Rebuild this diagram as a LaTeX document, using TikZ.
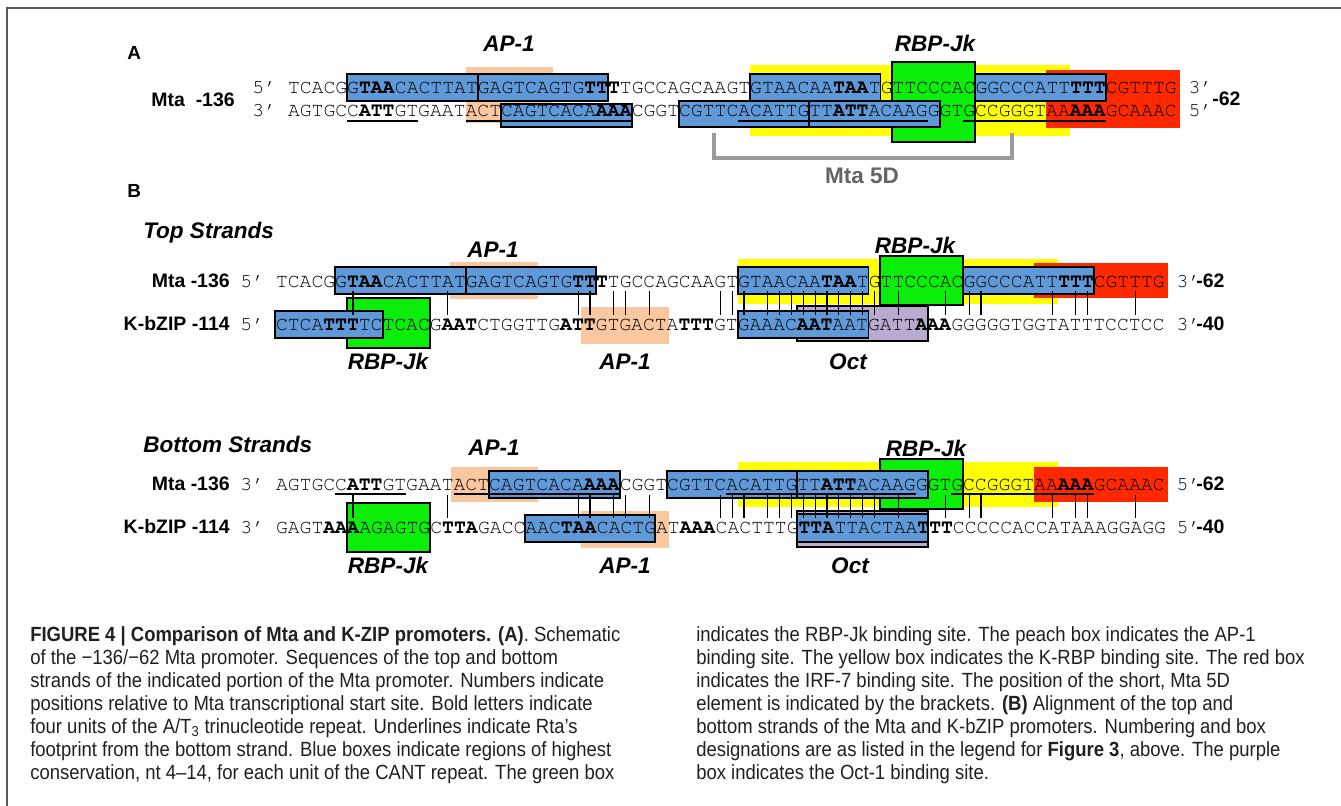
\documentclass[tikz,border=0pt]{standalone}
\usepackage{fontspec}
\setmainfont{Liberation Sans}
\newfontfamily\seqfont{texgyrecursor-regular.otf}[BoldFont=texgyrecursor-bold.otf]
\newfontfamily\capfont[FakeStretch=0.9]{Liberation Sans}
\definecolor{cantblue}{RGB}{96,153,216}
\definecolor{rbpgreen}{RGB}{10,238,10}
\definecolor{krbpyellow}{RGB}{255,255,0}
\definecolor{irfred}{RGB}{255,40,0}
\definecolor{appeach}{RGB}{250,200,160}
\definecolor{octpurple}{RGB}{185,170,208}
\definecolor{brgray}{RGB}{155,155,155}
\definecolor{lblgray}{RGB}{100,100,100}
\definecolor{captext}{RGB}{35,31,32}
\definecolor{framegray}{RGB}{90,90,90}
% character grid of the sequence font (px)
\def\cw{11.85}
\def\xA{288}
\def\xB{276}
% box over characters #3..#4 of a strand starting at #2, from y=#5 to y=#6
\newcommand\seqcell[6]{\path[#1] ({#2+(#3-1)*\cw},#5) rectangle ({#2+(#4)*\cw},#6);}
% underline of characters #2..#3 at height #4
\newcommand\sequnder[4]{\draw[underl] ({#1+(#2-1)*\cw},#4) -- ({#1+(#3)*\cw},#4);}
\begin{document}
\begin{tikzpicture}[x=0.75pt,y=-0.75pt,
  seq/.style={font=\seqfont\fontsize{14.8}{16}\selectfont,anchor=base west,inner sep=0pt,outer sep=0pt},
  lab/.style={font=\bfseries\fontsize{14.6}{16}\selectfont,inner sep=0pt},
  panel/.style={font=\bfseries\fontsize{14.2}{16}\selectfont,anchor=base west,inner sep=0pt},
  site/.style={font=\bfseries\itshape\fontsize{16.9}{18}\selectfont,anchor=base,inner sep=0pt},
  captxt/.style={font=\capfont\fontsize{15.4}{17}\selectfont,anchor=base west,inner sep=0pt,text=captext},
  cant/.style={fill=cantblue,draw=black,line width=1.4pt},
  rbp/.style={fill=rbpgreen,draw=black,line width=1.4pt},
  oct/.style={fill=octpurple,draw=black,line width=1.4pt},
  krbp/.style={fill=krbpyellow},
  irf/.style={fill=irfred},
  ap/.style={fill=appeach},
  underl/.style={line width=1.4pt},
  link/.style={line width=0.9pt},
  bracket/.style={draw=brgray,line width=2.6pt},
]
\useasboundingbox (0,0) rectangle (1341,806);
\fill[white] (0,0) rectangle (1341,806);
\draw[framegray,line width=1.1pt] (7,806) -- (7,8) -- (1341,8);

%% ---------------- Panel A ----------------
\node[panel] (pA) at (127,60) {A};
\node[site] (aAP) at (509,52) {AP-1};
\node[site] (aRBP) at (935,52) {RBP-Jk};

\seqcell{krbp}{\xA}{40}{66}{65}{136}
\path[irf] ({\xA+64*\cw},70) rectangle ({\xA+75*\cw+3},128);
\seqcell{ap}{\xA}{16}{22.4}{67}{123}
\seqcell{rbp}{\xA}{52}{58}{62}{142}
\seqcell{cant}{\xA}{6}{16}{74}{101}
\seqcell{cant}{\xA}{17}{27}{74}{101}
\seqcell{cant}{\xA}{40}{50}{74}{101}
\seqcell{cant}{\xA}{59}{69}{74}{101}
\seqcell{cant}{\xA}{19}{29}{104}{127}
\seqcell{cant}{\xA}{34}{44}{101}{127}
\seqcell{cant}{\xA}{45}{55}{101}{127}

\node[lab,anchor=base east] (aName) at (235,107) {Mta\ \ -136};
\node[seq] (aP5) at ({\xA-3*\cw},94) {5’};
\node[seq] (aTop) at (\xA,94) {TCACGG\textbf{TAA}CACTTATGAGTCAGTG\textbf{TTT}TGCCAGCAAGTGTAACAA\textbf{TAA}TGTTCCCACGGCCCATT\textbf{TTT}CGTTTG};
\node[seq] (aP3) at ({\xA+76*\cw},94) {3’};
\node[seq] (aQ3) at ({\xA-3*\cw},117) {3’};
\node[seq] (aBot) at (\xA,117) {AGTGCC\textbf{ATT}GTGAATACTCAGTCACA\textbf{AAA}CGGTCGTTCACATTGTT\textbf{ATT}ACAAGGGTGCCGGGTAA\textbf{AAA}GCAAAC};
\node[seq] (aQ5) at ({\xA+76*\cw},117) {5’};
\node[lab,anchor=base west] (aEnd) at (1212,106) {-62};

\sequnder{\xA}{6}{11}{121}
\sequnder{\xA}{16}{29}{121}
\sequnder{\xA}{39}{54}{121}
\sequnder{\xA}{58}{69}{121}

\coordinate (m5dL) at (714,133);
\coordinate (m5dR) at (1012,133);
\draw[bracket] (m5dL) -- ++(0,25) -| (m5dR);
\node[font=\bfseries\fontsize{16.9}{18}\selectfont,text=lblgray,anchor=base] (m5d) at (862,184) {Mta 5D};

%% ---------------- Panel B ----------------
\node[panel] (pB) at (127,197) {B};

% top strands
\node[site,anchor=base west] (tsL) at (143,238) {Top Strands};
\node[site] (tAP) at (493,257) {AP-1};
\node[site] (tRBP) at (915,253) {RBP-Jk};

\seqcell{krbp}{\xB}{40}{66}{259}{304}
\path[irf] ({\xB+64*\cw},263) rectangle ({\xB+75*\cw+3},298);
\seqcell{ap}{\xB}{15.7}{22.1}{262}{299}
\seqcell{rbp}{\xB}{52}{58}{256}{305}
\seqcell{cant}{\xB}{6}{16}{267}{294}
\seqcell{cant}{\xB}{17}{27}{267}{294}
\seqcell{cant}{\xB}{40}{50}{267}{294}
\seqcell{cant}{\xB}{59}{69}{267}{294}

\seqcell{rbp}{\xB}{7}{13}{298}{348}
\seqcell{ap}{\xB}{26.7}{33.2}{307}{344}
\seqcell{oct}{\xB}{45}{55}{306}{341}
\seqcell{cant}{\xB}{0.92}{9}{311}{338}
\seqcell{cant}{\xB}{40}{50}{311}{338}

\node[lab,anchor=base east] (tMta) at (230,287) {Mta -136};
\node[seq] (tM5) at ({\xB-3*\cw},287) {5’};
\node[seq] (tMseq) at (\xB,287) {TCACGG\textbf{TAA}CACTTATGAGTCAGTG\textbf{TTT}TGCCAGCAAGTGTAACAA\textbf{TAA}TGTTCCCACGGCCCATT\textbf{TTT}CGTTTG};
\node[seq] (tM3) at ({\xB+76*\cw},287) {3’};
\node[lab,anchor=base west] (tMend) at (1196,287) {-62};

\node[lab,anchor=base east] (tK) at (230,330) {K-bZIP -114};
\node[seq] (tK5) at ({\xB-3*\cw},330) {5’};
\node[seq] (tKseq) at (\xB,330) {CTCA\textbf{TTT}TCTCACG\textbf{AAT}CTGGTTG\textbf{ATT}GTGACTA\textbf{TTT}GTGAAAC\textbf{AAT}AATGATT\textbf{AAA}GGGGGTGGTATTTCCTCC};
\node[seq] (tK3) at ({\xB+76*\cw},330) {3’};
\node[lab,anchor=base west] (tKend) at (1196,330) {-40};

\foreach \i in {7,15,26,27,29,30,32,38,39,40,42,43,44,45,46,47,48,49,50,51,53,57,59,60,66,68,69,73}{
  \coordinate (tu\i) at ({\xB+(\i-0.5)*\cw},291);
  \coordinate (tl\i) at ({\xB+(\i-0.5)*\cw},315);
  \draw[link] (tu\i) -- (tl\i);
}

\node[site] (tRBPb) at (388,369) {RBP-Jk};
\node[site] (tAPb) at (625,369) {AP-1};
\node[site] (tOct) at (848,369) {Oct};

% bottom strands
\node[site,anchor=base west] (bsL) at (143,452) {Bottom Strands};
\node[site] (bAP) at (494,455) {AP-1};
\node[site] (bRBP) at (926,456) {RBP-Jk};

\seqcell{krbp}{\xB}{40}{66}{462}{507}
\path[irf] ({\xB+64*\cw},467) rectangle ({\xB+75*\cw+3},502);
\seqcell{ap}{\xB}{15.77}{22.1}{467}{502}
\seqcell{rbp}{\xB}{52}{58}{459}{509}
\seqcell{cant}{\xB}{19}{29}{471}{498}
\seqcell{cant}{\xB}{34}{44}{471}{498}
\seqcell{cant}{\xB}{45}{55}{471}{498}

\seqcell{rbp}{\xB}{7}{13}{503}{552}
\seqcell{ap}{\xB}{26.7}{33.2}{511}{548}
\seqcell{cant}{\xB}{22}{32}{515}{542}
\seqcell{oct}{\xB}{45}{55}{511}{547}
\seqcell{cant}{\xB}{45}{55}{514}{542}

\node[lab,anchor=base east] (bMta) at (230,490) {Mta -136};
\node[seq] (bM3) at ({\xB-3*\cw},490) {3’};
\node[seq] (bMseq) at (\xB,490) {AGTGCC\textbf{ATT}GTGAATACTCAGTCACA\textbf{AAA}CGGTCGTTCACATTGTT\textbf{ATT}ACAAGGGTGCCGGGTAA\textbf{AAA}GCAAAC};
\node[seq] (bM5) at ({\xB+76*\cw},490) {5’};
\node[lab,anchor=base west] (bMend) at (1196,490) {-62};

\node[lab,anchor=base east] (bK) at (230,533) {K-bZIP -114};
\node[seq] (bK3) at ({\xB-3*\cw},533) {3’};
\node[seq] (bKseq) at (\xB,533) {GAGT\textbf{AAA}AGAGTGC\textbf{TTA}GACCAAC\textbf{TAA}CACTGAT\textbf{AAA}CACTTTG\textbf{TTA}TTACTAA\textbf{TTT}CCCCCACCATAAAGGAGG};
\node[seq] (bK5) at ({\xB+76*\cw},533) {5’};
\node[lab,anchor=base west] (bKend) at (1196,533) {-40};

\sequnder{\xB}{6}{11}{494}
\sequnder{\xB}{16}{29}{494}
\sequnder{\xB}{39}{54}{494}
\sequnder{\xB}{58}{69}{494}

\foreach \i in {7,15,26,27,29,30,32,38,39,40,42,43,44,45,46,47,48,49,50,51,53,57,59,60,66,68,69,73}{
  \coordinate (bu\i) at ({\xB+(\i-0.5)*\cw},495);
  \coordinate (bl\i) at ({\xB+(\i-0.5)*\cw},518);
  \draw[link] (bu\i) -- (bl\i);
}

\node[site] (bRBPb) at (388,573) {RBP-Jk};
\node[site] (bAPb) at (625,573) {AP-1};
\node[site] (bOct) at (850,573) {Oct};

%% ---------------- Legend ----------------
\node[captxt] (c1) at (30,641) {\textbf{FIGURE 4 | Comparison of Mta and K-ZIP promoters. (A)}. Schematic};
\node[captxt] (c2) at (30,664) {of the −136/−62 Mta promoter. Sequences of the top and bottom};
\node[captxt] (c3) at (30,687) {strands of the indicated portion of the Mta promoter. Numbers indicate};
\node[captxt] (c4) at (30,710) {positions relative to Mta transcriptional start site. Bold letters indicate};
\node[captxt] (c5) at (30,733) {four units of the A/T\textsubscript{3} trinucleotide repeat. Underlines indicate Rta’s};
\node[captxt] (c6) at (30,756) {footprint from the bottom strand. Blue boxes indicate regions of highest};
\node[captxt] (c7) at (30,779) {conservation, nt 4–14, for each unit of the CANT repeat. The green box};

\node[captxt] (d1) at (696,641) {indicates the RBP-Jk binding site. The peach box indicates the AP-1};
\node[captxt] (d2) at (696,664) {binding site. The yellow box indicates the K-RBP binding site. The red box};
\node[captxt] (d3) at (696,687) {indicates the IRF-7 binding site. The position of the short, Mta 5D};
\node[captxt] (d4) at (696,710) {element is indicated by the brackets. \textbf{(B)} Alignment of the top and};
\node[captxt] (d5) at (696,733) {bottom strands of the Mta and K-bZIP promoters. Numbering and box};
\node[captxt] (d6) at (696,756) {designations are as listed in the legend for \textbf{Figure 3}, above. The purple};
\node[captxt] (d7) at (696,779) {box indicates the Oct-1 binding site.};
\end{tikzpicture}
\end{document}
